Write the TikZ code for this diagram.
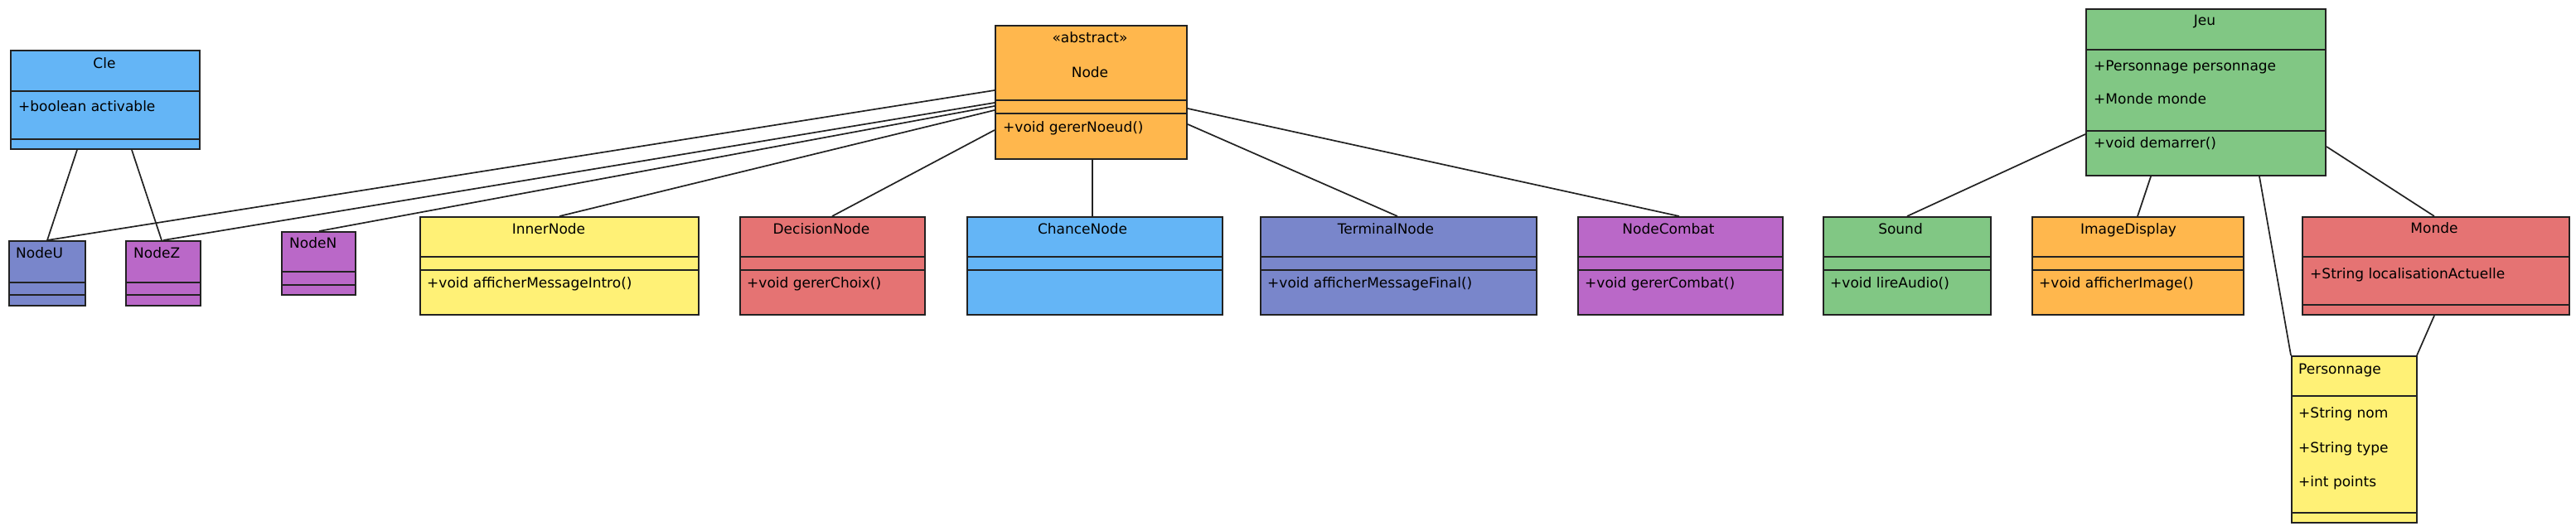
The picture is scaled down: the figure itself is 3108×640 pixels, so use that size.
\documentclass[tikz,border=0pt]{standalone}
\usepackage{fontspec}
\setmainfont{DejaVu Sans}
\definecolor{cblue}{HTML}{64B5F6}
\definecolor{corange}{HTML}{FFB74D}
\definecolor{cgreen}{HTML}{81C784}
\definecolor{cred}{HTML}{E57373}
\definecolor{cyellow}{HTML}{FFF176}
\definecolor{cpurple}{HTML}{BA68C8}
\definecolor{cindigo}{HTML}{7986CB}
\definecolor{lineC}{HTML}{222222}
\tikzset{
  cls/.style={draw=lineC, line width=2pt, inner sep=0pt, anchor=north west},
  divline/.style={draw=lineC, line width=1.3pt},
  conn/.style={draw=lineC, line width=1.7pt},
  lbl/.style={font=\fontsize{17}{19}\selectfont, inner sep=0pt, text=black, text height=12.5pt, text depth=3.5pt},
  lblw/.style={lbl, anchor=west},
}
\newcommand{\umlcls}[8]{%
  \node[cls, fill=#8, minimum width={#4-#2}, minimum height={#5-#3}] (#1) at (#2,#3) {};
  \draw[divline] (#2,#6) -- (#4,#6);
  \draw[divline] (#2,#7) -- (#4,#7);
}
\begin{document}
\begin{tikzpicture}[x=1pt,y=-1pt]
\useasboundingbox[fill=white] (0,0) rectangle (3108,640);

% classes
\umlcls{Cle}{12}{60}{240}{179}{110}{168}{cblue}
\umlcls{NodeU}{10}{290}{102}{368}{341}{356}{cindigo}
\umlcls{NodeZ}{151}{290}{241}{368}{341}{356}{cpurple}
\umlcls{NodeN}{339}{279}{428}{355}{328}{344}{cpurple}
\umlcls{Node}{1200}{30}{1431}{191}{121}{137}{corange}
\umlcls{InnerNode}{506}{261}{842}{379}{310}{326}{cyellow}
\umlcls{DecisionNode}{892}{261}{1115}{379}{310}{326}{cred}
\umlcls{ChanceNode}{1166}{261}{1474}{379}{310}{326}{cblue}
\umlcls{TerminalNode}{1520}{261}{1853}{379}{310}{326}{cindigo}
\umlcls{NodeCombat}{1903}{261}{2150}{379}{310}{326}{cpurple}
\umlcls{Sound}{2199}{261}{2401}{379}{310}{326}{cgreen}
\umlcls{ImageDisplay}{2451}{261}{2706}{379}{310}{326}{corange}
\umlcls{Monde}{2777}{261}{3099}{379}{310}{368}{cred}
\umlcls{Jeu}{2516}{10}{2805}{211}{60}{158}{cgreen}
\umlcls{Personnage}{2764}{429}{2915}{630}{478}{619}{cyellow}

% texts
\node[lbl] (Cle-t) at (126,78) {Cle};
\node[lblw] (Cle-a1) at (22,130) {+boolean activable};
\node[lblw] (NodeU-t) at (19,307) {NodeU};
\node[lblw] (NodeZ-t) at (161,307) {NodeZ};
\node[lblw] (NodeN-t) at (349,295) {NodeN};
\node[lbl] (Node-s) at (1315,47) {«abstract»};
\node[lbl] (Node-t) at (1315,89) {Node};
\node[lblw] (Node-m1) at (1210,155) {+void gererNoeud()};
\node[lbl] (InnerNode-t) at (662,278) {InnerNode};
\node[lblw] (InnerNode-m1) at (515,343) {+void afficherMessageIntro()};
\node[lbl] (DecisionNode-t) at (991,278) {DecisionNode};
\node[lblw] (DecisionNode-m1) at (901,343) {+void gererChoix()};
\node[lbl] (ChanceNode-t) at (1306,278) {ChanceNode};
\node[lbl] (TerminalNode-t) at (1672,278) {TerminalNode};
\node[lblw] (TerminalNode-m1) at (1529,343) {+void afficherMessageFinal()};
\node[lbl] (NodeCombat-t) at (2013,278) {NodeCombat};
\node[lblw] (NodeCombat-m1) at (1912,343) {+void gererCombat()};
\node[lbl] (Sound-t) at (2293,278) {Sound};
\node[lblw] (Sound-m1) at (2208,343) {+void lireAudio()};
\node[lbl] (ImageDisplay-t) at (2568,278) {ImageDisplay};
\node[lblw] (ImageDisplay-m1) at (2460,343) {+void afficherImage()};
\node[lbl] (Monde-t) at (2937,277) {Monde};
\node[lblw] (Monde-a1) at (2787,332) {+String localisationActuelle};
\node[lbl] (Jeu-t) at (2660,26) {Jeu};
\node[lblw] (Jeu-a1) at (2526,81) {+Personnage personnage};
\node[lblw] (Jeu-a2) at (2526,121) {+Monde monde};
\node[lblw] (Jeu-m1) at (2526,174) {+void demarrer()};
\node[lblw] (Personnage-t) at (2773,447) {Personnage};
\node[lblw] (Personnage-a1) at (2773,500) {+String nom};
\node[lblw] (Personnage-a2) at (2773,542) {+String type};
\node[lblw] (Personnage-a3) at (2773,583) {+int points};

% connectors
\draw[conn] ([xshift=81pt]Cle.south west) -- ([xshift=47pt]NodeU.north west);
\draw[conn] ([xshift=147pt]Cle.south west) -- ([xshift=44pt]NodeZ.north west);
\draw[conn] ([yshift=-79pt]Node.north west) -- ([xshift=47pt]NodeU.north west);
\draw[conn] ([yshift=-94pt]Node.north west) -- ([xshift=46pt]NodeZ.north west);
\draw[conn] ([yshift=-98pt]Node.north west) -- ([xshift=46pt]NodeN.north west);
\draw[conn] ([yshift=-103pt]Node.north west) -- ([xshift=169pt]InnerNode.north west);
\draw[conn] ([yshift=-127pt]Node.north west) -- ([xshift=112pt]DecisionNode.north west);
\draw[conn] ([xshift=118pt]Node.south west) -- ([xshift=152pt]ChanceNode.north west);
\draw[conn] ([yshift=-120pt]Node.north east) -- ([xshift=166pt]TerminalNode.north west);
\draw[conn] ([yshift=-101pt]Node.north east) -- ([xshift=123pt]NodeCombat.north west);
\draw[conn] ([yshift=-152pt]Jeu.north west) -- ([xshift=102pt]Sound.north west);
\draw[conn] ([xshift=79pt]Jeu.south west) -- ([xshift=128pt]ImageDisplay.north west);
\draw[conn] ([xshift=210pt]Jeu.south west) -- (Personnage.north west);
\draw[conn] ([yshift=-167pt]Jeu.north east) -- ([xshift=160pt]Monde.north west);
\draw[conn] ([xshift=160pt]Monde.south west) -- ([xshift=152pt]Personnage.north west);
\end{tikzpicture}
\end{document}
